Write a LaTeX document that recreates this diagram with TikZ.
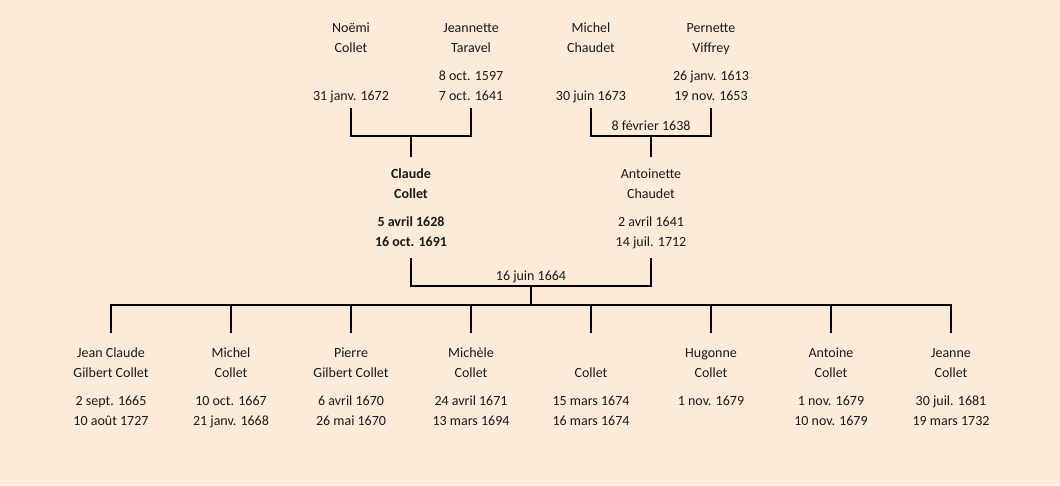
\documentclass[tikz,border=0pt]{standalone}
\usepackage{fontspec}
\setmainfont{Carlito}
\usepackage{xcolor}
\usepackage{tikz}
\definecolor{parchment}{HTML}{FCEBD9}
\definecolor{ink}{HTML}{1A1A1A}
\newcommand{\twolines}[2]{\strut#1\\\strut#2}
\tikzset{
  person/.style={align=center, inner sep=0pt, text=ink, font=\fontsize{14}{20}\selectfont},
  union/.style={inner sep=0pt, anchor=base, text=ink, font=\fontsize{14}{20}\selectfont},
  link/.style={line width=2pt, draw=black},
}

\begin{document}
\begin{tikzpicture}[x=1pt, y=-1pt]
	\fill[parchment] (0,0) rectangle (1060,485);%
	% grandparents
	\node[person] (noemiN) at (351,38.7) {\twolines{Noëmi}{Collet}};%
	\node[person] (noemiD) at (351,86) {\twolines{}{31 janv. 1672}};%
	\node[person] (jeannetteN) at (471,38.7) {\twolines{Jeannette}{Taravel}};%
	\node[person] (jeannetteD) at (471,86) {\twolines{8 oct. 1597}{7 oct. 1641}};%
	\node[person] (michelN) at (591,38.7) {\twolines{Michel}{Chaudet}};%
	\node[person] (michelD) at (591,86) {\twolines{}{30 juin 1673}};%
	\node[person] (pernetteN) at (711,38.7) {\twolines{Pernette}{Viffrey}};%
	\node[person] (pernetteD) at (711,86) {\twolines{26 janv. 1613}{19 nov. 1653}};%
	\node[union] (wedChaudet) at (651,130) {8 février 1638};%
	% parents
	\node[person, font=\fontsize{14}{20}\selectfont\bfseries] (claudeN) at (411,184.3) {\twolines{Claude}{Collet}};%
	\node[person, font=\fontsize{14}{20}\selectfont\bfseries] (claudeD) at (411,232) {\twolines{5 avril 1628}{16 oct. 1691}};%
	\node[person] (antoinetteN) at (651,184.3) {\twolines{Antoinette}{Chaudet}};%
	\node[person] (antoinetteD) at (651,232) {\twolines{2 avril 1641}{14 juil. 1712}};%
	\node[union] (wedCollet) at (531,280) {16 juin 1664};%
	% children
	\node[person] (jeanclaudeN) at (111,363.3) {\twolines{Jean Claude}{Gilbert Collet}};%
	\node[person] (jeanclaudeD) at (111,411) {\twolines{2 sept. 1665}{10 août 1727}};%
	\node[person] (michelcN) at (231,363.3) {\twolines{Michel}{Collet}};%
	\node[person] (michelcD) at (231,411) {\twolines{10 oct. 1667}{21 janv. 1668}};%
	\node[person] (pierreN) at (351,363.3) {\twolines{Pierre}{Gilbert Collet}};%
	\node[person] (pierreD) at (351,411) {\twolines{6 avril 1670}{26 mai 1670}};%
	\node[person] (micheleN) at (471,363.3) {\twolines{Michèle}{Collet}};%
	\node[person] (micheleD) at (471,411) {\twolines{24 avril 1671}{13 mars 1694}};%
	\node[person] (colletN) at (591,363.3) {\twolines{}{Collet}};%
	\node[person] (colletD) at (591,411) {\twolines{15 mars 1674}{16 mars 1674}};%
	\node[person] (hugonneN) at (711,363.3) {\twolines{Hugonne}{Collet}};%
	\node[person] (hugonneD) at (711,411) {\twolines{1 nov. 1679}{}};%
	\node[person] (antoineN) at (831,363.3) {\twolines{Antoine}{Collet}};%
	\node[person] (antoineD) at (831,411) {\twolines{1 nov. 1679}{10 nov. 1679}};%
	\node[person] (jeanneN) at (951,363.3) {\twolines{Jeanne}{Collet}};%
	\node[person] (jeanneD) at (951,411) {\twolines{30 juil. 1681}{19 mars 1732}};%
	% connectors
	\coordinate (jCollet) at (411,135.7);%
	\coordinate (jChaudet) at (651,135.7);%
	\coordinate (marriage) at (531,285.7);%
	\coordinate (kids) at (531,305);%
	\draw[link, shorten <=2pt, shorten >=2pt] (noemiD.south) |- (jCollet) -| (jeannetteD.south);%
	\draw[link, shorten <=2pt, shorten >=2pt] (michelD.south) |- (jChaudet) -| (pernetteD.south);%
	\draw[link, shorten >=7pt] (jCollet) -- (claudeN.north);%
	\draw[link, shorten >=7pt] (jChaudet) -- (antoinetteN.north);%
	\draw[link, shorten <=6pt, shorten >=6pt] (claudeD.south) |- (marriage) -| (antoinetteD.south);%
	\draw[link] (marriage) -- (kids);%
	\foreach \kid in {jeanclaudeN,michelcN,pierreN,micheleN,colletN,hugonneN,antoineN,jeanneN}
		\draw[link, shorten >=10pt] (kids) -| (\kid.north);%
\end{tikzpicture}
\end{document}
